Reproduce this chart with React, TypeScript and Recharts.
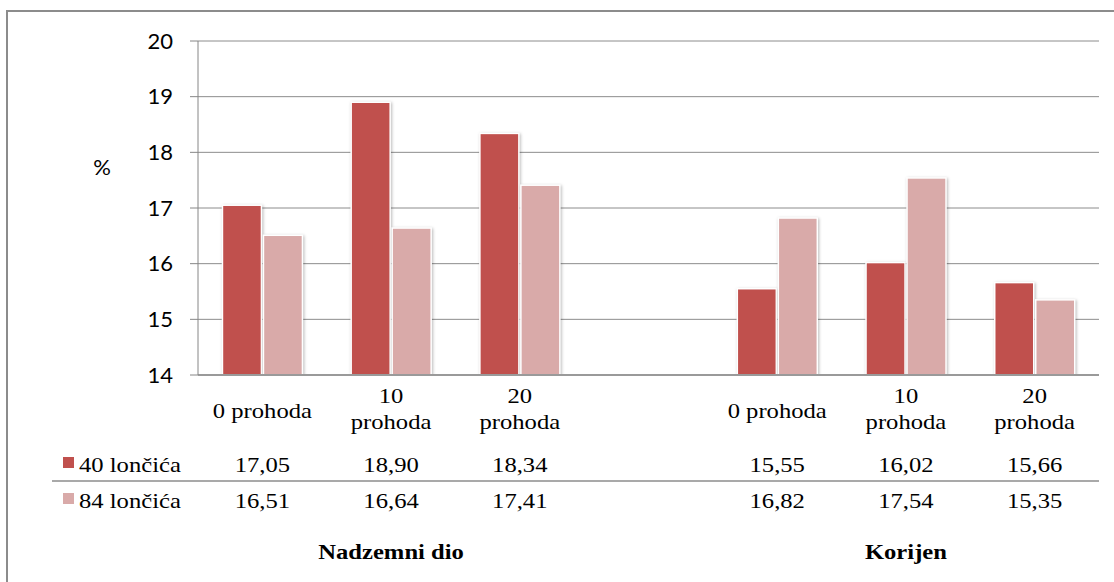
import { BarChart, Bar, XAxis, YAxis, CartesianGrid } from 'recharts'

// kategorije (prazna kategorija odvaja dvije skupine)
const categories = ['0 prohoda', '10 prohoda', '20 prohoda', '', '0 prohoda', '10 prohoda', '20 prohoda']
const groupTitles = ['', 'Nadzemni dio', '', '', '', 'Korijen', '']
const pots40 = [17.05, 18.9, 18.34, null, 15.55, 16.02, 15.66]
const pots84 = [16.51, 16.64, 17.41, null, 16.82, 17.54, 15.35]
const seriesNames = ['40 lončića', '84 lončića']
const yTicks = [14, 15, 16, 17, 18, 19, 20]

const COLORS = ['#C0504D', '#D9AAA9']
const SERIF = 'Liberation Serif'
const SANS = 'Lato'
const STRETCH = 1.12

const data = categories.map((_, i) => ({ id: i, v40: pots40[i], v84: pots84[i] }))

const fmt = (v: number | null) => (v == null ? '' : v.toFixed(2).replace('.', ','))

const ShadowBar = (props: any) => {
  const { x, y, width, height, fill } = props
  if (!height || height <= 0) return null
  return (
    <rect
      x={x}
      y={y}
      width={width}
      height={height}
      fill={fill}
      stroke="#fff"
      strokeWidth={1.5}
      style={{ filter: 'drop-shadow(1.5px 1px 1.5px rgba(0,0,0,0.28))' }}
    />
  )
}

const SerifText = ({ x, y, children, bold }: any) => (
  <text
    transform={`translate(${x},${y}) scale(${STRETCH},1)`}
    textAnchor="middle"
    fill="#000"
    fontFamily={SERIF}
    fontSize={22}
    fontWeight={bold ? 700 : 400}
  >
    {children}
  </text>
)

// tablica podataka ispod osi x
const TableTick = ({ x, y, payload }: any) => {
  const i = payload.value
  const label = categories[i]
  const lines = !label ? [] : label.length > 9 ? label.split(' ') : [label]
  return (
    <g>
      {lines.map((l: string, k: number) => (
        <SerifText key={k} x={x} y={lines.length === 1 ? y + 43 : y + 28 + k * 26}>
          {l}
        </SerifText>
      ))}
      <SerifText x={x} y={y + 97}>{fmt(pots40[i])}</SerifText>
      <SerifText x={x} y={y + 133}>{fmt(pots84[i])}</SerifText>
      {groupTitles[i] && (
        <SerifText x={x} y={y + 184} bold>
          {groupTitles[i]}
        </SerifText>
      )}
    </g>
  )
}

export default function App() {
  return (
    <div
      style={{
        position: 'fixed',
        left: 0,
        top: 0,
        width: 1114,
        height: 582,
        overflow: 'hidden',
        background: '#fff',
      }}
    >
      <div
        style={{
          position: 'absolute',
          left: 6,
          top: 10,
          width: 1200,
          height: 700,
          border: '2px solid #8c8c8c',
        }}
      />
      <div style={{ position: 'absolute', left: 0, top: 0 }}>
        <BarChart
          width={1114}
          height={582}
          data={data}
          margin={{ top: 41, right: 15, bottom: 177, left: 0 }}
          barCategoryGap="19%"
          barGap={2}
        >
          <CartesianGrid vertical={false} stroke="#8c8c8c" />
          <XAxis
            dataKey="id"
            height={30}
            tick={<TableTick />}
            tickLine={false}
            tickSize={0}
            tickMargin={0}
            interval={0}
            axisLine={{ stroke: '#9a9a9a', strokeWidth: 2 }}
          />
          <YAxis
            width={198}
            domain={[14, 20]}
            ticks={yTicks}
            allowDataOverflow
            tickSize={8}
            tickMargin={17}
            axisLine={{ stroke: '#868686' }}
            tickLine={{ stroke: '#868686' }}
            tick={{ fill: '#000', fontSize: 22, fontFamily: SANS }}
          />
          <Bar dataKey="v40" fill={COLORS[0]} shape={<ShadowBar />} isAnimationActive={false} />
          <Bar dataKey="v84" fill={COLORS[1]} shape={<ShadowBar />} isAnimationActive={false} />
        </BarChart>
      </div>
      <svg
        width={1114}
        height={582}
        style={{ position: 'absolute', left: 0, top: 0, pointerEvents: 'none' }}
      >
        <text x={102} y={175} textAnchor="middle" fill="#000" fontFamily={SANS} fontSize={22}>
          %
        </text>
        <line x1={52} x2={1099} y1={481} y2={481} stroke="#8c8c8c" strokeWidth={1.5} />
        {seriesNames.map((s, k) => (
          <g key={s}>
            <rect x={63} y={457 + k * 36} width={11} height={11} fill={COLORS[k]} />
            <text
              transform={`translate(79,${472 + k * 36}) scale(${STRETCH},1)`}
              fill="#000"
              fontFamily={SERIF}
              fontSize={22}
            >
              {s}
            </text>
          </g>
        ))}
      </svg>
    </div>
  )
}
